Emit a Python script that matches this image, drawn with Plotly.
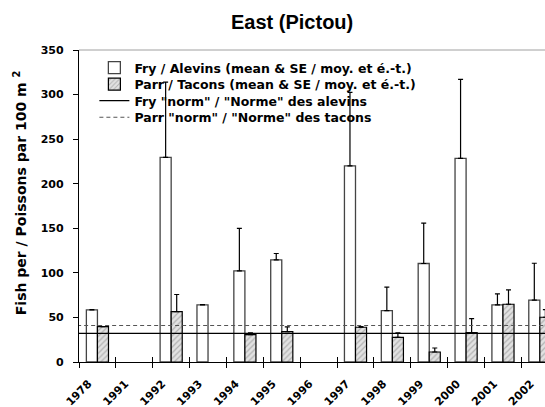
import plotly.graph_objects as go

years = ['1978', '1991', '1992', '1993', '1994', '1995', '1996',
         '1997', '1998', '1999', '2000', '2001', '2002']
fry_mean = [58.4, None, 229.5, 64.0, 102.2, 114.5, None, 220.1, 57.7, 110.5, 228.4, 64.0, 69.3]
fry_se = [0.5, None, 84.5, 0.5, 47.6, 7.2, None, 82.4, 26.2, 45.2, 88.6, 12.4, 41.5]
parr_mean = [39.7, None, 56.6, None, 30.7, 34.1, None, 39.0, 27.7, 11.2, 33.0, 64.8, 50.2]
parr_se = [0.0, None, 19.1, None, 1.9, 5.2, None, 0.7, 4.9, 4.5, 15.7, 16.1, 8.6]
FRY_NORM = 32
PARR_NORM = 41

n = len(years)
XR = [-0.5, 12.14]
boundaries = [i - 0.5 for i in range(n + 1)]

F = 'DejaVu Sans'
fig = go.Figure()

fig.add_trace(go.Bar(
    x=years, y=fry_mean, name='Fry / Alevins (mean & SE / moy. et é.-t.)',
    marker=dict(color='white', line=dict(color='#444444', width=1.3)),
    error_y=dict(type='data', symmetric=False, array=fry_se,
                 arrayminus=[0] * n, color='black', thickness=1.2, width=2.5),
    legend='legend'))
fig.add_trace(go.Bar(
    x=years, y=parr_mean, name='Parr / Tacons (mean & SE / moy. et é.-t.)',
    marker=dict(color='#e2e2e2', line=dict(color='black', width=1.2),
                pattern=dict(shape='/', fgcolor='#808080', bgcolor='#e2e2e2',
                             size=4, solidity=0.3)),
    error_y=dict(type='data', symmetric=False, array=parr_se,
                 arrayminus=[0] * n, color='black', thickness=1.2, width=2.5),
    legend='legend2'))

fig.add_trace(go.Scatter(
    x=[boundaries[0] - 1, boundaries[-1] + 1], y=[FRY_NORM, FRY_NORM],
    mode='lines', name='Fry "norm" / "Norme" des alevins',
    line=dict(color='black', width=1.3), xaxis='x2', legend='legend3'))
fig.add_trace(go.Scatter(
    x=[boundaries[0] - 1, boundaries[-1] + 1], y=[PARR_NORM, PARR_NORM],
    mode='lines', name='Parr "norm" / "Norme" des tacons',
    line=dict(color='#555555', width=1.1, dash='4px,3px'), xaxis='x2', legend='legend4'))
# invisible helper trace so the inner boundary-tick axis is drawn
fig.add_trace(go.Scatter(x=[boundaries[0]], y=[None], mode='lines', xaxis='x3',
                         showlegend=False, hoverinfo='skip'))

legfont = dict(family=F, size=12.5, color='black', weight=700)
leg_x = 0.033
rows = [0.9423, 0.8893, 0.8364, 0.7834]
legs = {}
for i, key in enumerate(['legend', 'legend2', 'legend3', 'legend4']):
    legs[key] = dict(x=leg_x, y=rows[i], xanchor='left', yanchor='middle',
                     bgcolor='rgba(0,0,0,0)', borderwidth=0, font=legfont,
                     itemwidth=30)

fig.update_layout(
    width=545, height=407,
    margin=dict(l=79, r=0, t=50, b=45, autoexpand=False),
    paper_bgcolor='white', plot_bgcolor='white',
    barmode='group', bargap=0.4, bargroupgap=0,
    showlegend=True,
    title=dict(text='East (Pictou)', x=0.536, xref='container', xanchor='center',
               y=1 - 22 / 407, yref='container', yanchor='middle',
               font=dict(family='Liberation Sans', size=20, color='black', weight=700)),
    xaxis=dict(type='category', categoryorder='array', categoryarray=years,
               range=XR, ticks='', showgrid=False, zeroline=False, automargin=False,
               showline=True, linecolor='black', linewidth=1.2,
               tickangle=-45, ticklabelshift=-9, ticklabelstandoff=10,
               tickfont=dict(family=F, size=11, color='black', weight=700)),
    xaxis2=dict(overlaying='x', anchor='y', side='bottom', range=XR,
                tickmode='array', tickvals=boundaries, ticks='outside',
                ticklen=5, tickwidth=1.2, tickcolor='black', automargin=False,
                showticklabels=False, showgrid=False, zeroline=False, showline=False),
    xaxis3=dict(overlaying='x', anchor='y', side='bottom', range=XR,
                tickmode='array', tickvals=boundaries, ticks='inside',
                ticklen=5, tickwidth=1.2, tickcolor='black', automargin=False,
                showticklabels=False, showgrid=False, zeroline=False, showline=False),
    yaxis=dict(range=[0, 350], dtick=50, ticks='outside', ticklen=5,
               tickwidth=1.2, tickcolor='black', showgrid=False, zeroline=False,
               showline=True, linecolor='black', linewidth=1.2, automargin=False,
               ticklabelstandoff=7,
               tickfont=dict(family=F, size=11, color='black', weight=700)),
    shapes=[dict(type='line', xref='paper', yref='paper', x0=0, x1=1, y0=1, y1=1,
                 line=dict(color='#a0a0a0', width=1))],
    annotations=[dict(text='Fish per / Poissons par 100 m <sup>2</sup>',
                      textangle=-90, xref='paper', yref='paper',
                      x=(20 - 79) / 466, y=0.541, xanchor='center', yanchor='middle',
                      showarrow=False,
                      font=dict(family=F, size=14, color='black', weight=700))],
    **legs,
)

fig.write_html('out.html')
